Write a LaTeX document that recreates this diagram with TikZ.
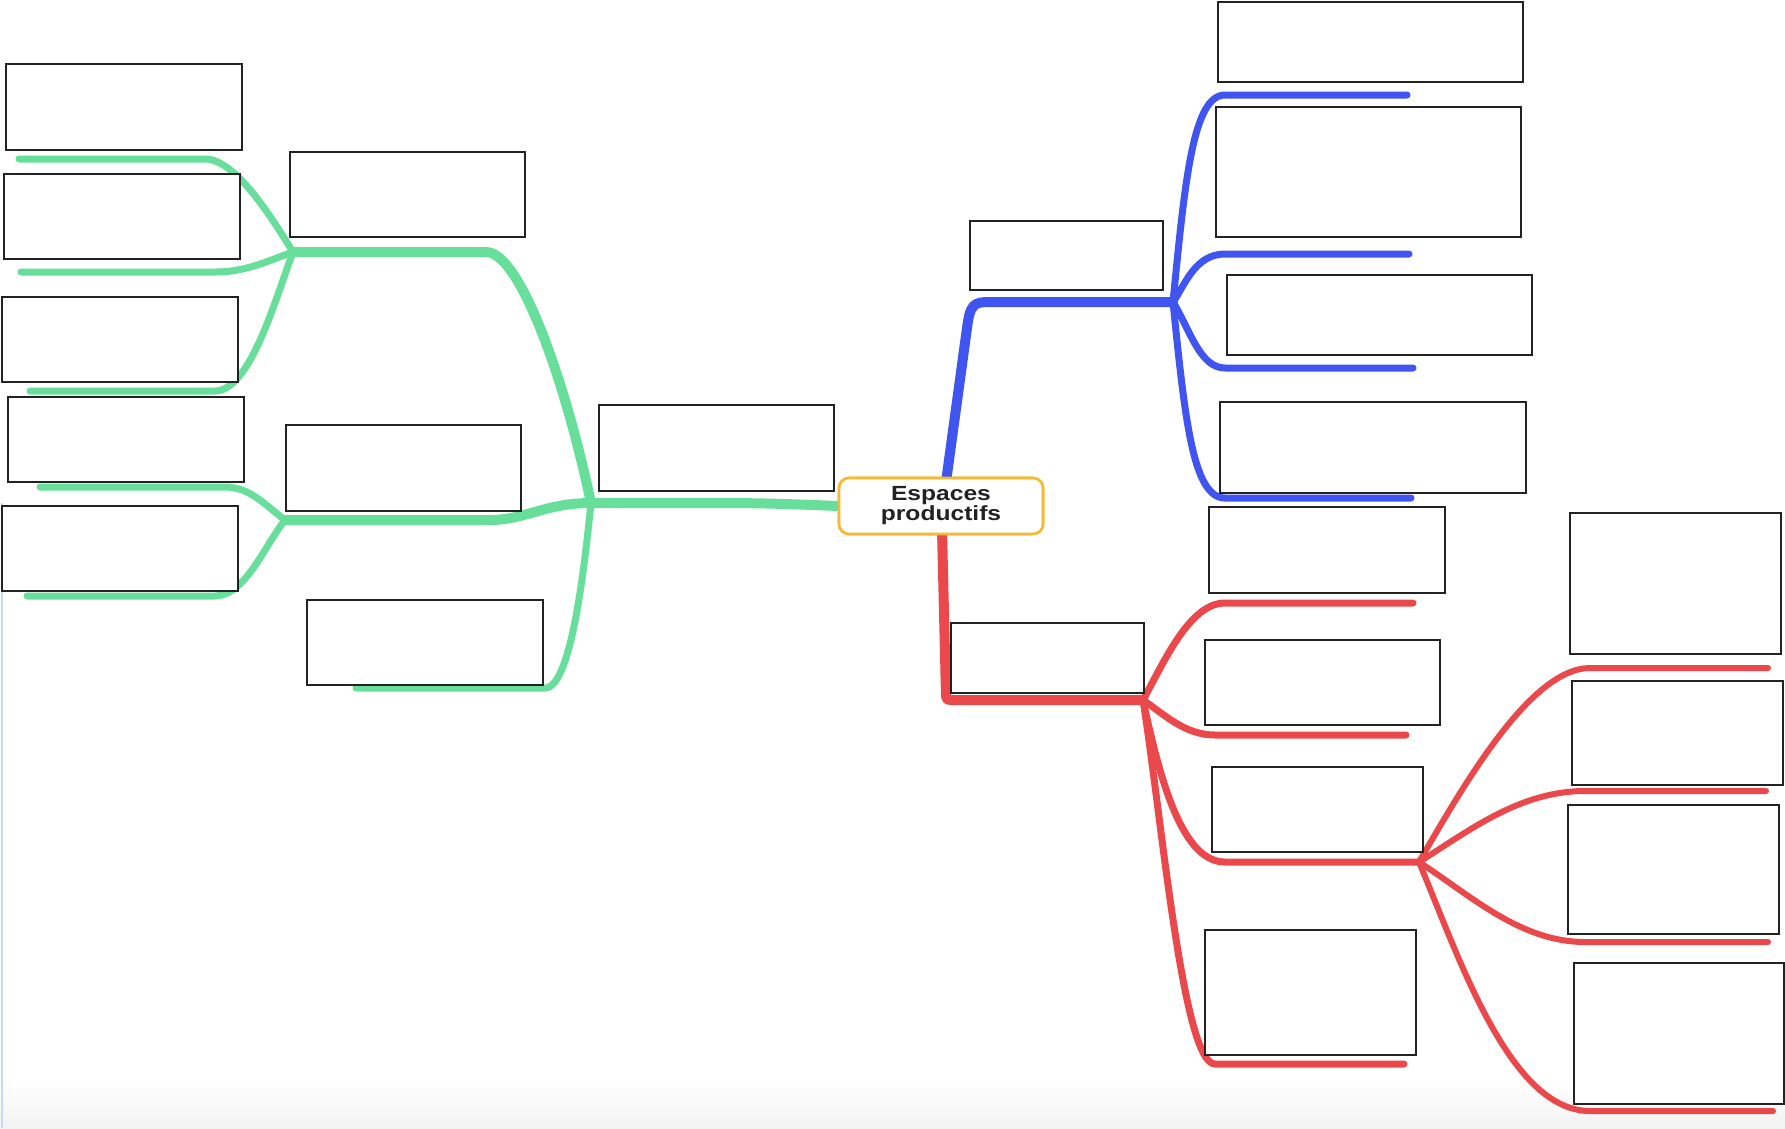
\documentclass[tikz,border=0pt]{standalone}
\usepackage{fontspec}
\setmainfont{Liberation Sans}
\newfontfamily\rootfont[FakeStretch=1.2]{Liberation Sans}
\definecolor{gr}{RGB}{104,222,155}
\definecolor{bl}{RGB}{64,84,240}
\definecolor{rd}{RGB}{234,72,74}
\definecolor{og}{RGB}{248,184,48}
\definecolor{boxline}{RGB}{34,34,34}
\definecolor{txt}{RGB}{34,34,34}
\definecolor{edge}{RGB}{200,218,245}
\begin{document}
\begin{tikzpicture}[x=1pt,y=-1pt,
  box/.style={draw=boxline, line width=2pt, fill=white, inner sep=0pt, outer sep=0pt},
  trunk/.style={line width=10pt, line cap=round, line join=round},
  twig/.style={line width=7pt, line cap=round, line join=round},
  leaf/.style={line width=6pt, line cap=round, line join=round},
  root/.style={draw=og, line width=2.6pt, rounded corners=10pt, fill=white, inner sep=0pt,
    minimum width=204pt, minimum height=56pt, align=center, text=txt,
    font=\rootfont\fontsize{20.5}{20}\selectfont\bfseries}
]
\useasboundingbox (0,0) rectangle (1785,1128);
\shade[top color=white, bottom color=black!5] (0,1080) rectangle (1785,1128);
\draw[edge, line width=2pt] (2,503) -- (2,1128);

% ---------- junctions and free ends ----------
\coordinate (gj) at (591,503);
\coordinate (gj1) at (293,252);
\coordinate (gj2) at (285,520);
\coordinate (ge1) at (19,159);
\coordinate (ge2) at (21,272);
\coordinate (ge3) at (30,391);
\coordinate (ge4) at (40,487);
\coordinate (ge5) at (27,596);
\coordinate (ge8) at (356,688);

\coordinate (bstart) at (946,482);
\coordinate (bj) at (1173,302);
\coordinate (be1) at (1407,95);
\coordinate (be2) at (1409,254);
\coordinate (be3) at (1413,368);
\coordinate (be4) at (1411,498);

\coordinate (rstart) at (942,530);
\coordinate (rj) at (1143,700);
\coordinate (rj2) at (1419,862);
\coordinate (re1) at (1413,603);
\coordinate (re2) at (1406,735);
\coordinate (re4) at (1404,1064);
\coordinate (rf1) at (1768,668);
\coordinate (rf2) at (1766,791);
\coordinate (rf3) at (1768,942);
\coordinate (rf4) at (1773,1111);

% ---------- green branch ----------
\node[root] (ctr) at (941,506) {Espaces\\productifs};
\draw[gr, trunk] (ctr.west) .. controls (790,504) and (760,503) .. (720,503) -- (gj);
\draw[gr, trunk] (gj) .. controls (565,380) and (520,252) .. (486,252) -- (gj1);
\draw[gr, trunk] (gj) .. controls (545,503) and (525,520) .. (490,520) -- (gj2);
\draw[gr, twig] (gj) .. controls (585,560) and (572,688) .. (545,688) -- (ge8);
\draw[gr, twig] (gj1) .. controls (270,215) and (235,159) .. (205,159) -- (ge1);
\draw[gr, twig] (gj1) .. controls (265,262) and (245,272) .. (215,272) -- (ge2);
\draw[gr, twig] (gj1) .. controls (275,300) and (250,391) .. (215,391) -- (ge3);
\draw[gr, twig] (gj2) .. controls (265,505) and (250,487) .. (225,487) -- (ge4);
\draw[gr, twig] (gj2) .. controls (265,545) and (245,596) .. (215,596) -- (ge5);

% ---------- blue branch ----------
\draw[bl, trunk] (bstart) -- (967,328) .. controls (970,304) and (974,302) .. (990,302) -- (bj);
\draw[bl, twig] (bj) .. controls (1185,180) and (1193,95) .. (1225,95) -- (be1);
\draw[bl, twig] (bj) .. controls (1185,285) and (1195,254) .. (1225,254) -- (be2);
\draw[bl, twig] (bj) .. controls (1190,330) and (1200,368) .. (1225,368) -- (be3);
\draw[bl, twig] (bj) .. controls (1185,420) and (1193,498) .. (1225,498) -- (be4);

% ---------- red branch ----------
\draw[rd, trunk] (rstart) -- (946,696) .. controls (947,700) .. (955,700) -- (rj);
\draw[rd, twig] (rj) .. controls (1165,660) and (1190,603) .. (1225,603) -- (re1);
\draw[rd, twig] (rj) .. controls (1165,715) and (1185,735) .. (1215,735) -- (re2);
\draw[rd, twig] (rj) .. controls (1160,780) and (1182,862) .. (1225,862) -- (rj2);
\draw[rd, twig] (rj) .. controls (1162,820) and (1183,1064) .. (1215,1064) -- (re4);
\draw[rd, leaf] (rj2) .. controls (1462,788) and (1530,668) .. (1590,668) -- (rf1);
\draw[rd, leaf] (rj2) .. controls (1470,830) and (1520,791) .. (1585,791) -- (rf2);
\draw[rd, leaf] (rj2) .. controls (1470,895) and (1520,942) .. (1585,942) -- (rf3);
\draw[rd, leaf] (rj2) .. controls (1460,960) and (1510,1111) .. (1590,1111) -- (rf4);

% ---------- empty boxes ----------
\node[box, minimum width=236pt, minimum height=86pt] (L1) at (124,107) {};
\node[box, minimum width=236pt, minimum height=85pt] (L2) at (122,216.5) {};
\node[box, minimum width=236pt, minimum height=85pt] (L3) at (120,339.5) {};
\node[box, minimum width=236pt, minimum height=85pt] (L4) at (126,439.5) {};
\node[box, minimum width=236pt, minimum height=85pt] (L5) at (120,548.5) {};
\node[box, minimum width=235pt, minimum height=85pt] (L6) at (407.5,194.5) {};
\node[box, minimum width=235pt, minimum height=86pt] (L7) at (403.5,468) {};
\node[box, minimum width=236pt, minimum height=85pt] (L8) at (425,642.5) {};
\node[box, minimum width=235pt, minimum height=86pt] (L9) at (716.5,448) {};

\node[box, minimum width=193pt, minimum height=69pt] (B0) at (1066.5,255.5) {};
\node[box, minimum width=305pt, minimum height=80pt] (R1) at (1370.5,42) {};
\node[box, minimum width=305pt, minimum height=130pt] (R2) at (1368.5,172) {};
\node[box, minimum width=305pt, minimum height=80pt] (R3) at (1379.5,315) {};
\node[box, minimum width=306pt, minimum height=91pt] (R4) at (1373,447.5) {};

\node[box, minimum width=193pt, minimum height=70pt] (Rm) at (1047.5,658) {};
\node[box, minimum width=236pt, minimum height=86pt] (E1) at (1327,550) {};
\node[box, minimum width=235pt, minimum height=85pt] (E2) at (1322.5,682.5) {};
\node[box, minimum width=211pt, minimum height=85pt] (E3) at (1317.5,809.5) {};
\node[box, minimum width=211pt, minimum height=125pt] (E4) at (1310.5,992.5) {};
\node[box, minimum width=211pt, minimum height=141pt] (F1) at (1675.5,583.5) {};
\node[box, minimum width=211pt, minimum height=104pt] (F2) at (1677.5,733) {};
\node[box, minimum width=211pt, minimum height=129pt] (F3) at (1673.5,869.5) {};
\node[box, minimum width=210pt, minimum height=141pt] (F4) at (1679,1033.5) {};

% centre node redrawn on top
\node[root] at (ctr) {Espaces\\productifs};
\end{tikzpicture}
\end{document}
